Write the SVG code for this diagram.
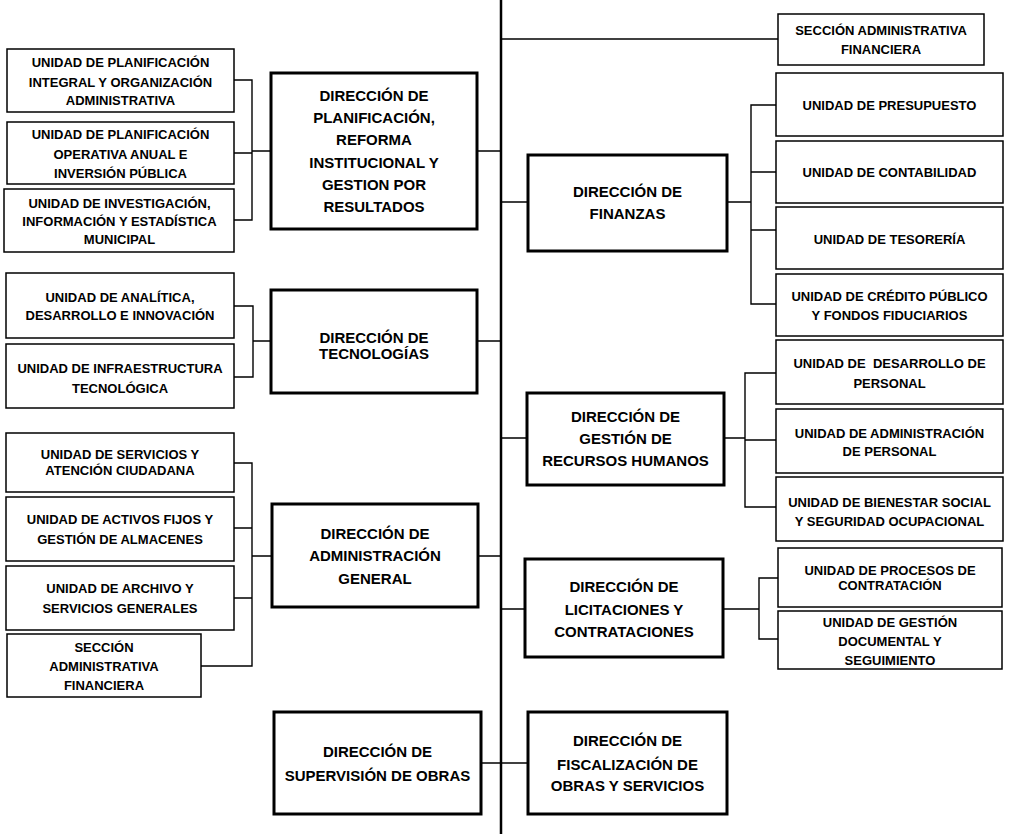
<svg xmlns="http://www.w3.org/2000/svg" width="1018" height="834" viewBox="0 0 1018 834">
<style>
.u{fill:#fff;stroke:#000;stroke-width:1.5}
.d{fill:#fff;stroke:#000;stroke-width:3}
.c{fill:none;stroke:#000;stroke-width:1.4}
.spine{fill:none;stroke:#000;stroke-width:2.5}
text{font-family:"Liberation Sans",Arial,sans-serif;font-weight:bold;fill:#000;text-anchor:middle}
.ut{font-size:13px}
.dt{font-size:15px}
</style>
<rect width="1018" height="834" fill="#fff"/>
<g id="connectors">
<line class="spine" x1="501" y1="0" x2="501" y2="834"/>
<path class="c" d="M234,80H252V220H234M234,153H252M252,151H271M477,151H501"/>
<path class="c" d="M234,306H253V377H234M253,341H271M477,341H501"/>
<path class="c" d="M234,463H252V666H201M234,528H252M234,598H252M252,556H272M478,556H501"/>
<path class="c" d="M481,763H528"/>
<path class="c" d="M501,39H778"/>
<path class="c" d="M501,202H528M727,202H751M776,105H751V304H776M751,172H776M751,230H776"/>
<path class="c" d="M501,438H527M724,438H745M776,373H745V507H776M745,440H776"/>
<path class="c" d="M501,609H525M723,609H759M778,578H759V639H778"/>
</g>
<g id="u-plan-integral"><rect class="u" x="7" y="49" width="227" height="63"/><text class="ut" x="120.5" y="67">UNIDAD DE PLANIFICACIÓN</text><text class="ut" x="120.5" y="87">INTEGRAL Y ORGANIZACIÓN</text><text class="ut" x="120.5" y="105">ADMINISTRATIVA</text></g>
<g id="u-plan-operativa"><rect class="u" x="7" y="122" width="227" height="62"/><text class="ut" x="120.5" y="139">UNIDAD DE PLANIFICACIÓN</text><text class="ut" x="120.5" y="159">OPERATIVA ANUAL E</text><text class="ut" x="120.5" y="178">INVERSIÓN PÚBLICA</text></g>
<g id="u-investigacion"><rect class="u" x="4" y="189" width="230" height="63"/><text class="ut" x="119.5" y="208">UNIDAD DE INVESTIGACIÓN,</text><text class="ut" x="119.5" y="226">INFORMACIÓN Y ESTADÍSTICA</text><text class="ut" x="119.5" y="244">MUNICIPAL</text></g>
<g id="d-planificacion"><rect class="d" x="271" y="73" width="206" height="156"/><text class="dt" x="374" y="101">DIRECCIÓN DE</text><text class="dt" x="374" y="123">PLANIFICACIÓN,</text><text class="dt" x="374" y="145">REFORMA</text><text class="dt" x="374" y="168">INSTITUCIONAL Y</text><text class="dt" x="374" y="190">GESTION POR</text><text class="dt" x="374" y="212">RESULTADOS</text></g>
<g id="u-analitica"><rect class="u" x="6" y="273" width="228" height="65"/><text class="ut" x="120" y="302">UNIDAD DE ANALÍTICA,</text><text class="ut" x="120" y="320">DESARROLLO E INNOVACIÓN</text></g>
<g id="u-infraestructura"><rect class="u" x="6" y="344" width="228" height="64"/><text class="ut" x="120" y="373">UNIDAD DE INFRAESTRUCTURA</text><text class="ut" x="120" y="393">TECNOLÓGICA</text></g>
<g id="d-tecnologias"><rect class="d" x="271" y="290" width="206" height="103"/><text class="dt" x="374" y="343">DIRECCIÓN DE</text><text class="dt" x="374" y="359">TECNOLOGÍAS</text></g>
<g id="u-servicios"><rect class="u" x="6" y="433" width="228" height="59"/><text class="ut" x="120" y="459">UNIDAD DE SERVICIOS Y</text><text class="ut" x="120" y="475">ATENCIÓN CIUDADANA</text></g>
<g id="u-activos"><rect class="u" x="6" y="497" width="228" height="64"/><text class="ut" x="120" y="524">UNIDAD DE ACTIVOS FIJOS Y</text><text class="ut" x="120" y="544">GESTIÓN DE ALMACENES</text></g>
<g id="u-archivo"><rect class="u" x="6" y="566" width="228" height="64"/><text class="ut" x="120" y="593">UNIDAD DE ARCHIVO Y</text><text class="ut" x="120" y="613">SERVICIOS GENERALES</text></g>
<g id="s-admin-fin-left"><rect class="u" x="7" y="634" width="194" height="63"/><text class="ut" x="104" y="652">SECCIÓN</text><text class="ut" x="104" y="671">ADMINISTRATIVA</text><text class="ut" x="104" y="690">FINANCIERA</text></g>
<g id="d-administracion"><rect class="d" x="272" y="504" width="206" height="103"/><text class="dt" x="375" y="539">DIRECCIÓN DE</text><text class="dt" x="375" y="561">ADMINISTRACIÓN</text><text class="dt" x="375" y="584">GENERAL</text></g>
<g id="d-supervision"><rect class="d" x="274" y="712" width="207" height="102"/><text class="dt" x="377.5" y="757">DIRECCIÓN DE</text><text class="dt" x="377.5" y="781">SUPERVISIÓN DE OBRAS</text></g>
<g id="d-fiscalizacion"><rect class="d" x="528" y="712" width="199" height="102"/><text class="dt" x="627.5" y="746">DIRECCIÓN DE</text><text class="dt" x="627.5" y="770">FISCALIZACIÓN DE</text><text class="dt" x="627.5" y="791">OBRAS Y SERVICIOS</text></g>
<g id="s-admin-fin-right"><rect class="u" x="778" y="14" width="206" height="51"/><text class="ut" x="881" y="35">SECCIÓN ADMINISTRATIVA</text><text class="ut" x="881" y="54">FINANCIERA</text></g>
<g id="d-finanzas"><rect class="d" x="528" y="155" width="199" height="96"/><text class="dt" x="627.5" y="197">DIRECCIÓN DE</text><text class="dt" x="627.5" y="219">FINANZAS</text></g>
<g id="u-presupuesto"><rect class="u" x="776" y="73" width="227" height="63"/><text class="ut" x="889.5" y="110">UNIDAD DE PRESUPUESTO</text></g>
<g id="u-contabilidad"><rect class="u" x="776" y="141" width="227" height="62"/><text class="ut" x="889.5" y="177">UNIDAD DE CONTABILIDAD</text></g>
<g id="u-tesoreria"><rect class="u" x="776" y="207" width="227" height="62"/><text class="ut" x="889.5" y="244">UNIDAD DE TESORERÍA</text></g>
<g id="u-credito"><rect class="u" x="776" y="274" width="227" height="62"/><text class="ut" x="889.5" y="301">UNIDAD DE CRÉDITO PÚBLICO</text><text class="ut" x="889.5" y="320">Y FONDOS FIDUCIARIOS</text></g>
<g id="d-rrhh"><rect class="d" x="527" y="393" width="197" height="92"/><text class="dt" x="625.5" y="422">DIRECCIÓN DE</text><text class="dt" x="625.5" y="444">GESTIÓN DE</text><text class="dt" x="625.5" y="466">RECURSOS HUMANOS</text></g>
<g id="u-desarrollo-personal"><rect class="u" x="776" y="340" width="227" height="64"/><text class="ut" x="889.5" y="368" xml:space="preserve">UNIDAD DE  DESARROLLO DE</text><text class="ut" x="889.5" y="388">PERSONAL</text></g>
<g id="u-admin-personal"><rect class="u" x="776" y="409" width="227" height="64"/><text class="ut" x="889.5" y="438">UNIDAD DE ADMINISTRACIÓN</text><text class="ut" x="889.5" y="456">DE PERSONAL</text></g>
<g id="u-bienestar"><rect class="u" x="776" y="477" width="227" height="64"/><text class="ut" x="889.5" y="507">UNIDAD DE BIENESTAR SOCIAL</text><text class="ut" x="889.5" y="526">Y SEGURIDAD OCUPACIONAL</text></g>
<g id="d-licitaciones"><rect class="d" x="525" y="559" width="198" height="98"/><text class="dt" x="624" y="592">DIRECCIÓN DE</text><text class="dt" x="624" y="615">LICITACIONES Y</text><text class="dt" x="624" y="637">CONTRATACIONES</text></g>
<g id="u-procesos"><rect class="u" x="778" y="548" width="224" height="59"/><text class="ut" x="890" y="575">UNIDAD DE PROCESOS DE</text><text class="ut" x="890" y="590">CONTRATACIÓN</text></g>
<g id="u-gestion-documental"><rect class="u" x="778" y="611" width="224" height="58"/><text class="ut" x="890" y="627">UNIDAD DE GESTIÓN</text><text class="ut" x="890" y="646">DOCUMENTAL Y</text><text class="ut" x="890" y="665">SEGUIMIENTO</text></g>
</svg>
